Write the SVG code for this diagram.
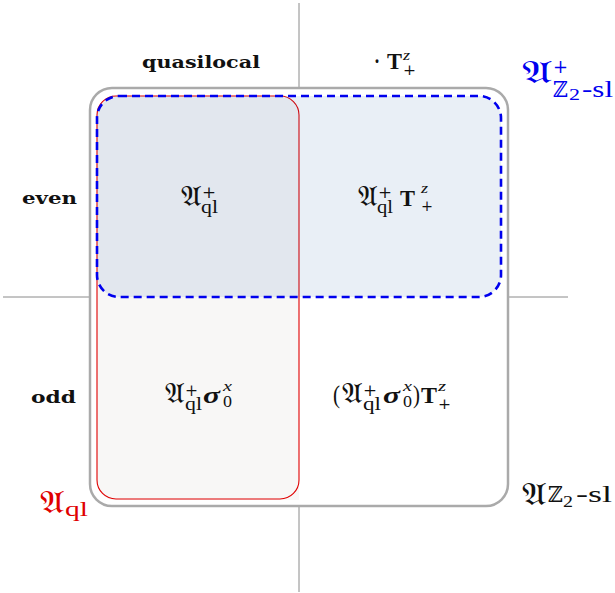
<svg xmlns="http://www.w3.org/2000/svg" width="615" height="593" viewBox="0 0 615 593">
<style>
.axis{stroke:#8a8a8a;stroke-width:1;fill:none}
text{fill:#111}
.lbl{font-family:"DejaVu Serif","Liberation Serif",serif;font-weight:bold;font-size:17px}
.fa{font-family:"DejaVu Serif","Liberation Serif",serif;font-size:28px}
.fb{font-family:"DejaVu Serif","Liberation Serif",serif;font-size:31px}
.pl{font-family:"DejaVu Serif",serif;font-size:17px}
.rm{font-family:"Liberation Serif",serif;font-size:18px}
.it{font-family:"Liberation Serif",serif;font-size:15px;font-style:italic}
.T{font-family:"Liberation Serif",serif;font-size:24px;font-weight:bold}
.sg{font-family:"Liberation Serif",serif;font-size:23px;font-weight:bold;font-style:italic}
.par{font-family:"Liberation Serif",serif;font-size:26px}
.zz{font-family:"DejaVu Serif",serif;font-size:22px}
.blue text{fill:#0000ee}
.red text{fill:#e00000}
</style>
<rect width="615" height="593" fill="#fff"/>
<g id="axes">
<line class="axis" x1="299" y1="3" x2="299" y2="592"/>
<line class="axis" x1="3" y1="297" x2="568" y2="297"/>
</g>
<g id="outer">
<rect x="90" y="88" width="418" height="418" rx="22" fill="#fff" stroke="#aaaaaa" stroke-width="2.5"/>
</g>
<g id="ql">
<path d="M97,297 H299 V500 H115 A18 18 0 0 1 97 482 Z" fill="#f8f7f6"/>
<rect x="97" y="96" width="202" height="403" rx="19" fill="#f8f7f6" stroke="#e00000" stroke-width="1.1"/>
</g>
<g id="even">
<rect x="97" y="96" width="404" height="201" rx="22" fill="rgb(35,95,165)" fill-opacity="0.1" stroke="none"/>
<rect x="97" y="96" width="404" height="201" rx="22" fill="none" stroke="#0000ee" stroke-width="2.6" stroke-dasharray="8 5"/>
</g>
<g id="header-quasilocal">
<text class="lbl" x="142" y="68" textLength="118" lengthAdjust="spacingAndGlyphs">quasilocal</text>
</g>
<g id="header-T">
<text class="T" x="374" y="69" textLength="6" lengthAdjust="spacingAndGlyphs">·</text>
<text class="T" x="387" y="69" textLength="15" lengthAdjust="spacingAndGlyphs">T</text>
<text class="it" x="403" y="60" textLength="7" lengthAdjust="spacingAndGlyphs">z</text>
<text class="pl" x="403" y="75" style="font-size:15px" textLength="13" lengthAdjust="spacingAndGlyphs">+</text>
</g>
<g id="row-even">
<text class="lbl" x="22" y="204" textLength="55" lengthAdjust="spacingAndGlyphs">even</text>
</g>
<g id="row-odd">
<text class="lbl" x="31" y="403" textLength="45" lengthAdjust="spacingAndGlyphs">odd</text>
</g>
<g id="cell-even-ql">
<text class="fa" x="181" y="206" textLength="21" lengthAdjust="spacingAndGlyphs">𝔄</text>
<text class="pl" x="202" y="198" textLength="14" lengthAdjust="spacingAndGlyphs">+</text>
<text class="rm" x="201" y="213" textLength="17" lengthAdjust="spacingAndGlyphs">ql</text>
</g>
<g id="cell-even-T">
<text class="fa" x="358" y="206" textLength="20" lengthAdjust="spacingAndGlyphs">𝔄</text>
<text class="pl" x="378" y="198" textLength="14" lengthAdjust="spacingAndGlyphs">+</text>
<text class="rm" x="377" y="213" textLength="16" lengthAdjust="spacingAndGlyphs">ql</text>
<text class="T" x="400" y="206" textLength="15" lengthAdjust="spacingAndGlyphs">T</text>
<text class="it" x="421" y="193" textLength="7" lengthAdjust="spacingAndGlyphs">z</text>
<text class="pl" x="421" y="211" style="font-size:15px" textLength="12" lengthAdjust="spacingAndGlyphs">+</text>
</g>
<g id="cell-odd-ql">
<text class="fa" x="165" y="403" textLength="20" lengthAdjust="spacingAndGlyphs">𝔄</text>
<text class="pl" x="185" y="396" textLength="13" lengthAdjust="spacingAndGlyphs">+</text>
<text class="rm" x="185" y="410" textLength="17" lengthAdjust="spacingAndGlyphs">ql</text>
<text class="sg" x="203" y="403" textLength="17" lengthAdjust="spacingAndGlyphs">σ</text>
<text class="it" x="223" y="391" textLength="9" lengthAdjust="spacingAndGlyphs">x</text>
<text class="rm" x="223" y="407" style="font-size:16px" textLength="9" lengthAdjust="spacingAndGlyphs">0</text>
</g>
<g id="cell-odd-T">
<text class="par" x="333" y="403" textLength="7" lengthAdjust="spacingAndGlyphs">(</text>
<text class="fa" x="342" y="403" textLength="21" lengthAdjust="spacingAndGlyphs">𝔄</text>
<text class="pl" x="363" y="396" textLength="14" lengthAdjust="spacingAndGlyphs">+</text>
<text class="rm" x="363" y="410" textLength="18" lengthAdjust="spacingAndGlyphs">ql</text>
<text class="sg" x="383" y="403" textLength="17" lengthAdjust="spacingAndGlyphs">σ</text>
<text class="it" x="403" y="391" textLength="9" lengthAdjust="spacingAndGlyphs">x</text>
<text class="rm" x="403" y="407" style="font-size:16px" textLength="9" lengthAdjust="spacingAndGlyphs">0</text>
<text class="par" x="413" y="403" textLength="7" lengthAdjust="spacingAndGlyphs">)</text>
<text class="T" x="421" y="403" textLength="16" lengthAdjust="spacingAndGlyphs">T</text>
<text class="it" x="438" y="391" textLength="8" lengthAdjust="spacingAndGlyphs">z</text>
<text class="pl" x="438" y="409" style="font-size:15px" textLength="13" lengthAdjust="spacingAndGlyphs">+</text>
</g>
<g id="set-even" class="blue">
<text class="fb" x="522" y="83" textLength="31" lengthAdjust="spacingAndGlyphs">𝔄</text>
<text class="pl" x="553" y="73" style="font-size:18px" textLength="15" lengthAdjust="spacingAndGlyphs">+</text>
<text class="zz" x="553" y="97" textLength="15" lengthAdjust="spacingAndGlyphs">ℤ</text>
<text class="rm" x="569" y="100" style="font-size:17px" textLength="11" lengthAdjust="spacingAndGlyphs">2</text>
<text class="rm" x="582" y="97" style="font-size:23px" textLength="31" lengthAdjust="spacingAndGlyphs">-sl</text>
</g>
<g id="set-all">
<text class="fb" x="522" y="505" textLength="25" lengthAdjust="spacingAndGlyphs">𝔄</text>
<text class="zz" x="548" y="502" textLength="15" lengthAdjust="spacingAndGlyphs">ℤ</text>
<text class="rm" x="563" y="507" style="font-size:17px" textLength="10" lengthAdjust="spacingAndGlyphs">2</text>
<text class="rm" x="576" y="502" style="font-size:23px" textLength="36" lengthAdjust="spacingAndGlyphs">-sl</text>
</g>
<g id="set-ql" class="red">
<text class="fb" x="40" y="513" textLength="25" lengthAdjust="spacingAndGlyphs">𝔄</text>
<text class="rm" x="65" y="516" style="font-size:20px" textLength="23" lengthAdjust="spacingAndGlyphs">ql</text>
</g>
</svg>
